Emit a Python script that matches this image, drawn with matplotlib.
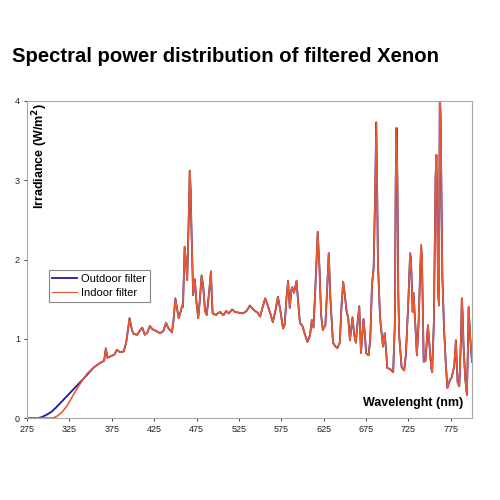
import matplotlib
matplotlib.use('Agg')
import matplotlib.pyplot as plt

plt.rcParams['font.family'] = ['Liberation Sans', 'DejaVu Sans']

# UV edge, where the two filters differ
outdoor_wl = [275, 288, 292, 298, 304, 310, 318, 326, 334, 342, 348, 354]
outdoor_val = [0, 0, 0.01, 0.04, 0.08, 0.14, 0.23, 0.32, 0.41, 0.50, 0.57, 0.64]
indoor_wl = [275, 306, 310, 316, 322, 328, 334, 340, 346, 354]
indoor_val = [0, 0, 0.02, 0.07, 0.15, 0.26, 0.37, 0.47, 0.56, 0.64]

# rest of the spectrum (both filters almost identical)
common_wl = [358, 362, 366, 368, 370, 374, 378, 381, 385, 389, 392, 396, 399, 401,
             405, 408, 411, 414, 417, 420, 423, 427, 432, 436, 439, 442, 446, 448,
             450, 452, 454, 456, 458, 459, 461, 463, 464, 466, 467, 468, 469, 471,
             473, 475, 477, 479, 481, 483, 485, 487, 490, 492, 493, 494, 498, 500,
             503, 505, 507, 510, 513, 517, 520, 524, 530, 534, 538, 541, 544, 547,
             550, 553, 556, 559, 562, 565, 568, 571, 574, 577, 579, 581, 583, 585,
             587, 588, 590, 593, 595, 597, 600, 603, 606, 609, 611, 613, 615, 618,
             620, 622, 624, 627, 629, 631, 633, 636, 639, 641, 644, 646, 648, 650,
             652, 654, 656, 659, 661, 663, 665, 667, 669, 672, 674, 675, 678, 680,
             682, 684, 686, 687, 688, 689, 691, 692, 695, 697, 699, 700, 703, 705,
             707, 709, 710, 711, 712, 713, 714, 717, 720, 722, 725, 727, 728, 730,
             731, 733, 735, 737, 739, 740, 741, 743, 745, 748, 750, 752, 753, 755,
             757, 758, 759, 760, 761, 762, 763, 764, 765, 767, 769, 771, 774, 776,
             779, 781, 782, 783, 785, 787, 788, 789, 790, 792, 794, 795, 796, 798, 800]
common_val = [0.67, 0.70, 0.72, 0.88, 0.76, 0.78, 0.80, 0.86, 0.83, 0.84, 0.95, 1.26, 1.10, 1.06,
              1.05, 1.10, 1.14, 1.05, 1.08, 1.16, 1.12, 1.10, 1.07, 1.10, 1.20, 1.13, 1.08, 1.25,
              1.51, 1.38, 1.26, 1.33, 1.42, 1.40, 2.16, 1.90, 1.74, 2.60, 3.12, 2.90, 2.40, 1.55,
              1.75, 1.45, 1.26, 1.50, 1.80, 1.65, 1.35, 1.30, 1.60, 1.85, 1.55, 1.32, 1.30, 1.32,
              1.34, 1.31, 1.30, 1.35, 1.32, 1.37, 1.34, 1.33, 1.32, 1.35, 1.42, 1.38, 1.35, 1.33,
              1.28, 1.40, 1.51, 1.42, 1.32, 1.21, 1.35, 1.53, 1.35, 1.13, 1.18, 1.50, 1.73, 1.39,
              1.62, 1.65, 1.58, 1.73, 1.45, 1.20, 1.16, 1.05, 0.96, 1.05, 1.24, 1.14, 1.60, 2.35,
              1.90, 1.30, 1.11, 1.17, 1.60, 2.08, 1.50, 0.95, 0.90, 0.88, 0.95, 1.40, 1.72, 1.55,
              1.35, 1.26, 0.98, 1.27, 1.05, 0.95, 1.20, 1.41, 0.82, 1.25, 1.00, 0.82, 0.79, 1.00,
              1.68, 1.90, 3.00, 3.73, 3.00, 1.97, 1.40, 1.21, 0.90, 1.07, 0.80, 0.63, 0.62, 0.60,
              0.58, 1.20, 3.00, 3.66, 3.00, 1.60, 1.05, 0.64, 0.60, 0.80, 1.50, 2.08, 2.00, 1.34,
              1.58, 1.20, 0.79, 1.20, 1.90, 2.18, 2.00, 0.71, 0.72, 1.17, 0.90, 0.62, 0.58, 1.20,
              3.03, 3.32, 2.60, 1.60, 1.42, 4.10, 3.80, 2.81, 1.80, 1.13, 0.70, 0.38, 0.48, 0.51,
              0.65, 0.98, 0.70, 0.45, 0.40, 1.00, 1.51, 1.30, 0.92, 0.50, 0.29, 0.80, 1.40, 1.00, 0.71]

x_ticks = [275, 325, 375, 425, 475, 525, 575, 625, 675, 725, 775]
y_ticks = [0, 1, 2, 3, 4]

fig = plt.figure(figsize=(5, 5), dpi=100)
ax = fig.add_axes([0.054, 0.164, 0.89, 0.634])

ax.plot(outdoor_wl + common_wl, outdoor_val + common_val, color='#1c1c9c', lw=1.3,
        label='Outdoor filter')
ax.plot(indoor_wl + common_wl, indoor_val + common_val, color='#ea5a2e', lw=1.2,
        label='Indoor filter')

ax.set_xlim(275, 800)
ax.set_ylim(0, 4)
ax.set_xticks(x_ticks)
ax.set_yticks(y_ticks)
ax.tick_params(labelsize=6.5, length=2, width=0.6, colors='#222222', pad=3)
for s in ax.spines.values():
    s.set_color('#a8a8a8')
    s.set_linewidth(0.8)

fig.text(0.024, 0.886, 'Spectral power distribution of filtered Xenon',
         fontsize=14.6, fontweight='bold', va='center', ha='left')
ax.text(0.03, 0.995, 'Irradiance (W/m$^\\mathbf{2}$)', transform=ax.transAxes,
        rotation=90, ha='center', va='top', fontsize=9, fontweight='bold')
ax.text(0.98, 0.047, 'Wavelenght (nm)', transform=ax.transAxes,
        ha='right', va='center', fontsize=9, fontweight='bold')

leg = ax.legend(loc='upper left', bbox_to_anchor=(0.036, 0.483), fontsize=8,
                fancybox=False, framealpha=1, edgecolor='#888888',
                handlelength=2.2, borderpad=0.35, labelspacing=0.3, handletextpad=0.4)
leg.get_frame().set_linewidth(0.8)
leg.get_lines()[1].set_linewidth(0.8)

fig.savefig('out.png', dpi=100)
